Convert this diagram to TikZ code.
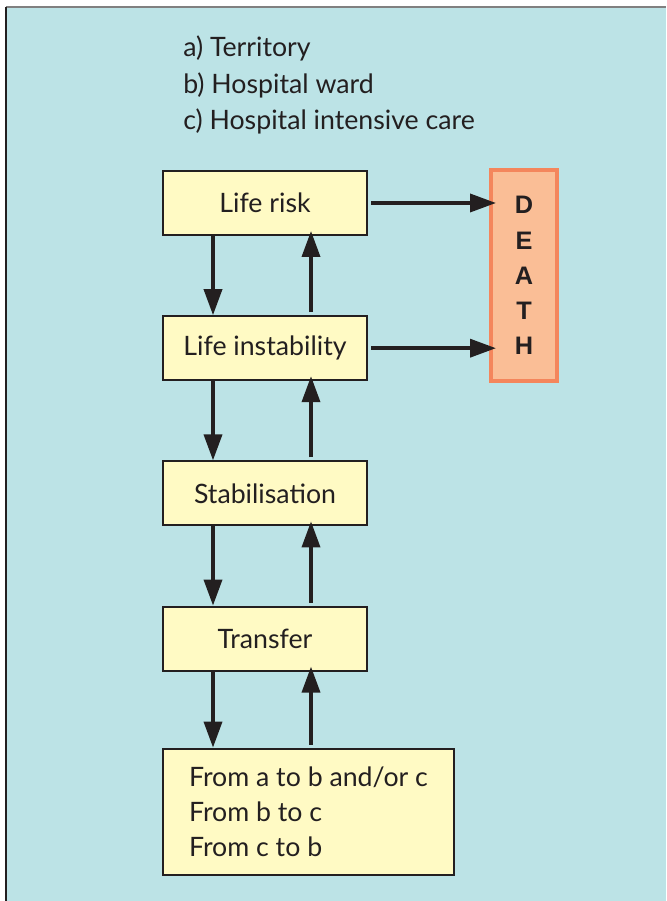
\documentclass[tikz,border=0pt]{standalone}
\usepackage{fontspec}
\setmainfont{Lato}
\newfontfamily\deathfont{Liberation Sans}
\usetikzlibrary{positioning, arrows.meta}
\definecolor{panelblue}{RGB}{188,227,230}
\definecolor{boxyellow}{RGB}{255,250,196}
\definecolor{deathfill}{RGB}{250,190,150}
\definecolor{deathline}{RGB}{244,134,92}
\definecolor{inkdark}{RGB}{35,31,32}

\begin{document}
\begin{tikzpicture}
\tikzset{
stage/.style={draw=inkdark, line width=0.05cm, fill=boxyellow, minimum width=5.1cm, minimum height=1.6cm, inner sep=0pt, text=inkdark, font=\fontsize{19}{25}\selectfont}, % the yellow boxes
flow/.style={-{Triangle[length=0.65cm, width=0.45cm]}, line width=0.09cm, draw=inkdark}, % the thick black arrows
node distance=3.63cm, % centre to centre distance of two stages
}
	\useasboundingbox (0,0) rectangle (16.65,22.525);
	% the blue panel
	\fill[panelblue] (0.15,0) rectangle (16.65,22.35);
	\draw[gray, line width=0.05cm] (0.15,22.35) -- (16.65,22.35);
	\draw[inkdark, line width=0.05cm] (0.15,0) -- (0.15,22.35);

	\node[anchor=base west, align=left, inner sep=0pt, text=inkdark, font=\fontsize{19}{26}\selectfont] (places) at (4.575,19.275) {a) Territory\\b) Hospital ward\\c) Hospital intensive care};

	\node[stage] (risk) at (6.625,17.45) {Life risk};
	\node[stage, below of=risk] (instab) {Life instability};
	\node[stage, below of=instab] (stab) {Stabilisation};
	\node[stage, below of=stab] (transfer) {Transfer};
	\node[stage, below=1.9cm of transfer.south west, anchor=north west, minimum width=7.275cm, minimum height=3.15cm, inner xsep=0.5cm, align=left] (routes) {From a to b and/or c\\From b to c\\From c to b};

	\node[draw=deathline, fill=deathfill, line width=0.1cm, minimum width=1.65cm, minimum height=5.275cm, inner sep=0pt, align=center, text=inkdark, font=\deathfont\bfseries\fontsize{18}{25}\selectfont] (death) at (13.1,15.6375) {D\\E\\A\\T\\H};

	\foreach \upper/\lower in {risk/instab, instab/stab, stab/transfer, transfer/routes} {
		\draw[flow] ([xshift=-1.3cm]\upper.south) -- ([xshift=-1.3cm]\upper.south |- \lower.north);
		\draw[flow, shorten <=0.075cm, shorten >=-0.125cm] ([xshift=1.15cm]\upper.south |- \lower.north) -- ([xshift=1.15cm]\upper.south);
	}

	\draw[flow, shorten <=0.075cm, shorten >=-0.175cm] (risk.east) -- (risk.east -| death.west);
	\draw[flow, shorten <=0.075cm, shorten >=-0.175cm] (instab.east) -- (instab.east -| death.west);
\end{tikzpicture}
\end{document}
